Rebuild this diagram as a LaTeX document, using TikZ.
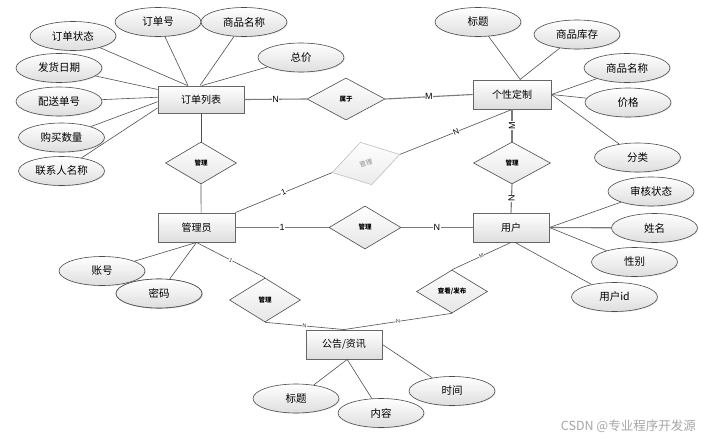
\documentclass[tikz,border=0pt]{standalone}
\usepackage{fontspec}
\setmainfont{Noto Sans CJK SC}
\newfontfamily\labfont{Liberation Sans}
\usetikzlibrary{shapes.geometric,shadows}
\definecolor{edgec}{HTML}{505050}
\definecolor{relc}{HTML}{7A7A7A}
\begin{document}
\begin{tikzpicture}[x=1pt,y=-1pt,
  ent/.style={draw=black!60, line width=0.9pt, rectangle, minimum width=77pt, minimum height=29pt,
    inner sep=0pt, top color=white, bottom color=black!13, font=\fontsize{10}{12}\selectfont,
    drop shadow={shadow xshift=1pt, shadow yshift=-1pt, opacity=0.3}},
  attr/.style={draw=black!70, line width=0.6pt, ellipse, minimum width=86pt, minimum height=29pt,
    inner sep=0pt, top color=white, bottom color=black!13, font=\fontsize{10.5}{12}\selectfont,
    drop shadow={shadow xshift=0.8pt, shadow yshift=-0.8pt, opacity=0.2}},
  rel/.style={draw=black!70, line width=0.6pt, diamond, aspect=1.7, minimum width=72pt, minimum height=42pt,
    inner sep=0pt, top color=white, bottom color=black!10, font=\fontsize{6.5}{8}\selectfont\bfseries},
  grel/.style={draw=black!25, line width=0.6pt, diamond, aspect=1.6, minimum width=70pt, minimum height=44pt,
    inner sep=0pt, top color=white, bottom color=black!8, text=black!45, font=\fontsize{6.5}{8}\selectfont},
  aline/.style={draw=edgec, line width=0.6pt},
  rline/.style={draw=relc, line width=1.1pt},
  lab/.style={fill=white, inner sep=0.6pt, font=\labfont\fontsize{9}{10}\selectfont, text=black},
  mlab/.style={fill=white, inner sep=0.5pt, font=\labfont\fontsize{8}{9}\selectfont, text=black},
  slab/.style={fill=white, inner sep=0.3pt, font=\labfont\fontsize{5.5}{6}\selectfont, text=black!80}
]
\useasboundingbox[fill=white] (0,0) rectangle (705,439);

% entities
\node[ent, minimum width=86pt, minimum height=27pt] (OL) at (201,99.5) {订单列表};
\node[ent, minimum width=78pt] (GX) at (512,94.5) {个性定制};
\node[ent] (GLY) at (196.5,227.5) {管理员};
\node[ent, minimum width=76pt] (YH) at (511,227.5) {用户};
\node[ent, minimum width=76pt] (GG) at (344,344.5) {公告/资讯};

% relationships
\node[rel, minimum width=78pt, aspect=1.85] (SY) at (346,99) {属于};
\node[rel, minimum width=71pt] (GLa) at (201,163) {管理};
\node[grel, rotate=15] (GLg) at (366,163.5) {管理};
\node[rel, minimum width=77pt, aspect=1.85] (GLr) at (512,163) {管理};
\node[rel, minimum height=43pt] (GLm) at (365,227.5) {管理};
\node[rel, minimum width=71pt, minimum height=44pt] (GLb) at (265,300) {管理};
\node[rel, minimum width=71pt, minimum height=43pt] (CK) at (452,291.5) {查看/发布};

% attributes of 订单列表
\node[attr] (A1) at (73,36) {订单状态};
\node[attr] (A2) at (158,22) {订单号};
\node[attr] (A3) at (244,22) {商品名称};
\node[attr] (A4) at (301,57.5) {总价};
\node[attr] (A5) at (59,68) {发货日期};
\node[attr] (A6) at (59,101.5) {配送单号};
\node[attr] (A7) at (61.5,137.5) {购买数量};
\node[attr] (A8) at (61.5,171) {联系人名称};
% attributes of 个性定制
\node[attr] (B1) at (478,22) {标题};
\node[attr] (B2) at (577,34.5) {商品库存};
\node[attr] (B3) at (627,68) {商品名称};
\node[attr] (B4) at (628,102.5) {价格};
\node[attr] (B5) at (637.5,157.5) {分类};
% attributes of 用户
\node[attr] (C1) at (651,191.5) {审核状态};
\node[attr] (C2) at (654.5,228) {姓名};
\node[attr] (C3) at (634.5,262) {性别};
\node[attr] (C4) at (614.5,297) {用户id};
% attributes of 管理员
\node[attr] (D1) at (102,271) {账号};
\node[attr] (D2) at (159,293.5) {密码};
% attributes of 公告/资讯
\node[attr] (E1) at (296,398.5) {标题};
\node[attr] (E2) at (381,413) {内容};
\node[attr] (E3) at (452,391) {时间};

% attribute lines
\draw[aline] (A1) -- (OL.134);
\draw[aline] (A2) -- (OL.133);
\draw[aline] (A3) -- (OL.94);
\draw[aline] (A4) -- (OL.86);
\draw[aline] (A5) -- (OL.167);
\draw[aline] (A6) -- (OL.177);
\draw[aline] (A7) -- (OL.183);
\draw[aline] (A8) -- (OL.191);
\draw[aline] (B1) -- (GX.61);
\draw[aline] (B2) -- (GX.62);
\draw[aline] (B3) -- (GX.east);
\draw[aline] (B4) -- (GX.east);
\draw[aline] (B5) -- (GX.east);
\draw[aline] (C1) -- (YH.east);
\draw[rline] (C2) -- (YH.east);
\draw[aline] (C3) -- (YH.east);
\draw[aline] (C4) -- (YH.285);
\draw[aline] (D1) -- (GLY.south);
\draw[aline] (D2) -- (GLY.south);
\draw[aline] (E1) -- (GG.282);
\draw[aline] (E2) -- (GG.282);
\draw[aline] (E3) -- (GG.east);

% relationship lines
\draw[rline] (OL.east) -- node[lab]{N} (SY.west);
\draw[rline] (SY.east) -- node[lab]{M} (GX.west);
\draw[aline] (OL.south) -- (GLa.north);
\draw[aline] (GLa.south) -- (GLY.73);
\draw[aline] (GLY.north east) -- node[mlab, sloped]{1} (GLg.west);
\draw[aline] (GLg.east) -- node[mlab, sloped]{N} (GX.south);
\draw[rline] (GX.south) -- node[lab, rotate=90]{M} (GLr.north);
\draw[rline] (GLr.south) -- node[lab, rotate=90]{N} (YH.north);
\draw[rline] (GLY.east) -- node[lab]{1} (GLm.west);
\draw[rline] (GLm.east) -- node[lab]{N} (YH.west);
\draw[aline] (GLY.south) -- node[slab, sloped]{1} (GLb.north);
\draw[aline] (GLb.south) -- node[slab, sloped]{N} (GG.north);
\draw[aline] (YH.south) -- node[slab, sloped]{M} (CK.north);
\draw[aline] (CK.south) -- node[slab, sloped]{N} (GG.north);

% redraw overlapping attribute on top
\node[attr] at (D2) {密码};

% watermark
\node[anchor=east, text=black!35, font=\fontsize{12.5}{14}\selectfont, inner sep=0pt] (WM) at (696,426) {CSDN @专业程序开发源};
\end{tikzpicture}
\end{document}
